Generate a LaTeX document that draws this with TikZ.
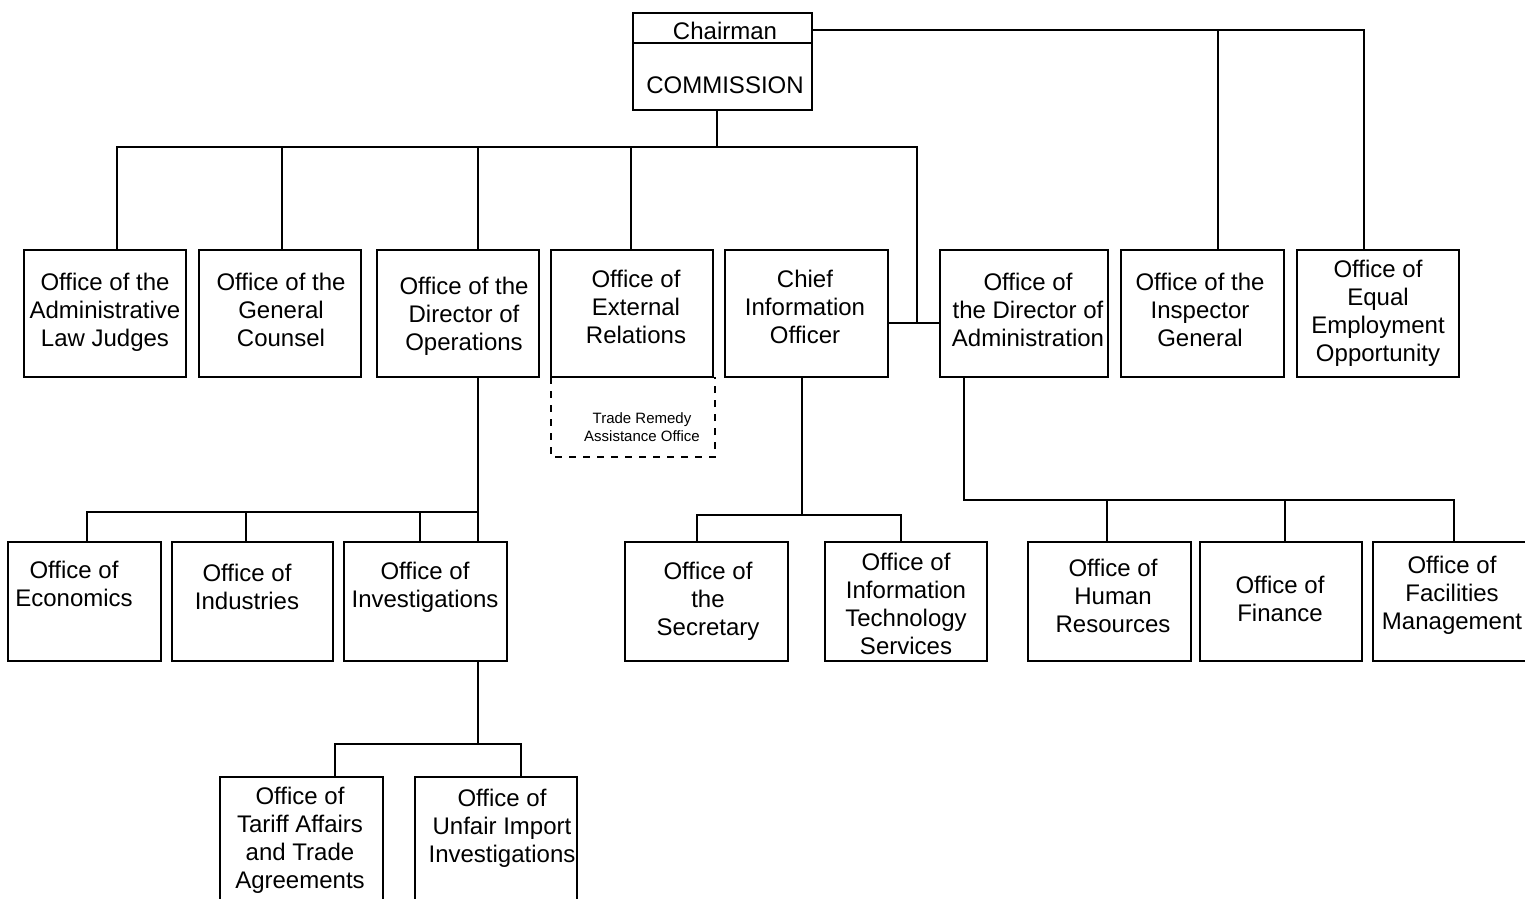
\documentclass[tikz,border=0pt]{standalone}
\usepackage{fontspec}
\setmainfont{Liberation Sans}
\newcommand\obox[6][]{\node[box,#1,minimum width={(#4)-(#2)},minimum height={(#6)-(#3)}] (#5) at ({((#2)+(#4))/2},{((#3)+(#6))/2}) {};}
\begin{document}
\begin{tikzpicture}[x=1pt,y=-1pt,line width=2.6pt,
  box/.style={draw,rectangle,inner sep=0pt,outer sep=0pt},
  txt/.style={align=center,font=\fontsize{24}{28}\selectfont,inner sep=0pt,yshift=-2pt},
  smalltxt/.style={align=center,font=\fontsize{15}{18}\selectfont,inner sep=0pt},
  dashedline/.style={line width=2.2pt,dash pattern=on 7pt off 7pt}]
\useasboundingbox (0,0) rectangle (1525,898);
\clip (0,0) rectangle (1525,898);
% boxes: [opts] x1 y1 x2 name y2
\obox{633}{13}{812}{comm}{110}
\obox{24}{250}{186}{alj}{377}
\obox{199}{250}{361}{gc}{377}
\obox{377}{250}{539}{dops}{377}
\obox{551}{250}{713}{ext}{377}
\obox{725}{250}{888}{cio}{377}
\obox{940}{250}{1108}{dira}{377}
\obox{1121}{250}{1284}{ig}{377}
\obox{1297}{250}{1459}{eeo}{377}
\obox[draw=none]{551}{377}{715}{trao}{457}
\obox{8}{542}{161}{econ}{661}
\obox{172}{542}{333}{ind}{661}
\obox{344}{542}{507}{inv}{661}
\obox{625}{542}{788}{sec}{661}
\obox{825}{542}{987}{its}{661}
\obox{1028}{542}{1191}{hr}{661}
\obox{1200}{542}{1362}{fin}{661}
\obox{1373}{542}{1545}{fac}{661}
\obox{220}{777}{383}{tar}{930}
\obox{415}{777}{577}{unf}{930}
% divider in commission box
\coordinate (div) at (722,43);
\draw (div -| comm.west) -- (div -| comm.east);
% dashed box
\draw[dashedline] (trao.north west) -- (trao.south west) -- (trao.south east) -- (trao.north east);
% texts
\node[txt] (t-chair) at (725,29) {Chairman};
\node[txt] (t-comm) at (725,83) {COMMISSION};
\node[txt] (t-alj) at (105,310) {Office of the\\Administrative\\Law Judges};
\node[txt] (t-gc) at (281,308) {Office of the\\General\\Counsel};
\node[txt] (t-dops) at (464,314) {Office of the\\Director of\\Operations};
\node[txt] (t-ext) at (636,305) {Office of\\External\\Relations};
\node[txt] (t-cio) at (805,305) {Chief\\Information\\Officer};
\node[txt] (t-dira) at (1028,308) {Office of\\the Director of\\Administration};
\node[txt] (t-ig) at (1200,308) {Office of the\\Inspector\\General};
\node[txt] (t-eeo) at (1378,311) {Office of\\Equal\\Employment\\Opportunity};
\node[smalltxt] (t-trao) at (642,427) {Trade Remedy\\Assistance Office};
\node[txt] (t-econ) at (74,582) {Office of\\Economics};
\node[txt] (t-ind) at (247,585) {Office of\\Industries};
\node[txt] (t-inv) at (425,585) {Office of\\Investigations};
\node[txt] (t-sec) at (708,599) {Office of\\the\\Secretary};
\node[txt] (t-its) at (906,602) {Office of\\Information\\Technology\\Services};
\node[txt] (t-hr) at (1113,594) {Office of\\Human\\Resources};
\node[txt] (t-fin) at (1280,597) {Office of\\Finance};
\node[txt] (t-fac) at (1452,593) {Office of\\Facilities\\Management};
\node[txt] (t-tar) at (300,838) {Office of\\Tariff Affairs\\and Trade\\Agreements};
\node[txt] (t-unf) at (502,826) {Office of\\Unfair Import\\Investigations};
% top connectors
\coordinate (tc) at (717,147);
\coordinate (t1) at (117,147);
\coordinate (t2) at (282,147);
\coordinate (t3) at (478,147);
\coordinate (t4) at (631,147);
\coordinate (t5) at (917,147);
\coordinate (jr) at (917,323);
\draw (tc |- comm.south) -- (tc);
\draw (t1 |- alj.north) -- (t1) -- (t5) -- (jr);
\draw (t2) -- (t2 |- gc.north);
\draw (t3) -- (t3 |- dops.north);
\draw (t4) -- (t4 |- ext.north);
\draw (jr -| cio.east) -- (jr -| dira.west);
% right connectors
\coordinate (r1) at (1218,30);
\coordinate (r2) at (1364,30);
\draw (r2 -| comm.east) -- (r2) -- (r2 |- eeo.north);
\draw (r1) -- (r1 |- ig.north);
% director of operations
\coordinate (o0) at (478,512);
\coordinate (e1) at (87,512);
\coordinate (e2) at (246,512);
\coordinate (e3) at (420,512);
\draw (o0 |- dops.south) -- (o0 |- inv.north);
\draw (e1 |- econ.north) -- (e1) -- (o0);
\draw (e2) -- (e2 |- ind.north);
\draw (e3) -- (e3 |- inv.north);
% investigations
\coordinate (v0) at (478,744);
\coordinate (v1) at (335,744);
\coordinate (v2) at (521,744);
\draw (v0 |- inv.south) -- (v0);
\draw (v1 |- tar.north) -- (v1) -- (v2) -- (v2 |- unf.north);
% CIO
\coordinate (c0) at (802,515);
\coordinate (c1) at (697,515);
\coordinate (c2) at (901,515);
\draw (c0 |- cio.south) -- (c0);
\draw (c1 |- sec.north) -- (c1) -- (c2) -- (c2 |- its.north);
% director of administration
\coordinate (a0) at (964,500);
\coordinate (a1) at (1107,500);
\coordinate (a2) at (1285,500);
\coordinate (a3) at (1454,500);
\draw (a0 |- dira.south) -- (a0) -- (a3) -- (a3 |- fac.north);
\draw (a1) -- (a1 |- hr.north);
\draw (a2) -- (a2 |- fin.north);
\end{tikzpicture}
\end{document}
